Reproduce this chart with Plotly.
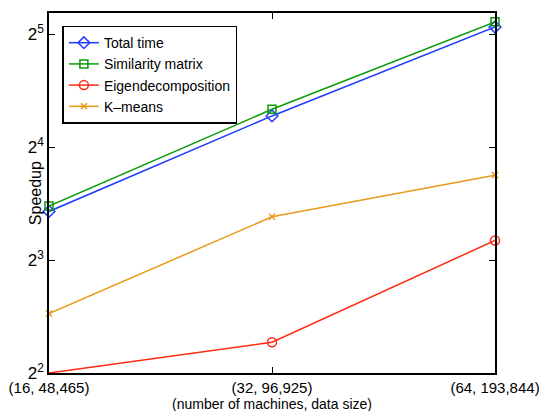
import plotly.graph_objects as go
import math

# Cluster configurations (number of machines, data size)
categories = ["(16, 48,465)", "(32, 96,925)", "(64, 193,844)"]

# Speedup per stage
total_time = [10.78, 19.37, 33.43]
similarity_matrix = [11.14, 20.18, 34.5]
eigendecomposition = [4.0, 4.83, 9.02]
kmeans = [5.76, 10.43, 13.47]

y_tick_vals = [4, 8, 16, 32]
y_tick_text = ["2<sup>2</sup>", "2<sup>3</sup>", "2<sup>4</sup>", "2<sup>5</sup>"]

x = list(range(len(categories)))

series = [
    ("Total time", total_time, "#1f3cff", "diamond-open", 9),
    ("Similarity matrix", similarity_matrix, "#0a9a0a", "square-open", 8),
    ("Eigendecomposition", eigendecomposition, "#ff2a12", "circle-open", 9),
    ("K\u2013means", kmeans, "#e89a1a", "x-thin-open", 6),
]

fig = go.Figure()
for name, vals, color, sym, size in series:
    fig.add_trace(go.Scatter(
        x=x, y=vals, name=name, mode="lines+markers",
        line=dict(color=color, width=1.5),
        marker=dict(symbol=sym, size=size, color=color,
                    line=dict(color=color, width=1.5)),
        cliponaxis=False,
    ))

font_family = "Liberation Sans, Arial, Helvetica, sans-serif"

fig.update_layout(
    width=539, height=411,
    margin=dict(l=49, r=44, t=13, b=38, autoexpand=False),
    paper_bgcolor="white", plot_bgcolor="white",
    font=dict(family=font_family, size=14, color="black"),
    showlegend=True,
    legend=dict(
        x=0.03, y=0.965, xanchor="left", yanchor="top",
        bordercolor="black", borderwidth=1.5, bgcolor="white",
        font=dict(size=14), itemwidth=30, tracegroupgap=0,
    ),
    xaxis=dict(
        range=[0, 2], tickvals=x, ticktext=categories,
        showline=True, linecolor="black", linewidth=1.5, mirror="ticks",
        ticks="inside", ticklen=6, tickcolor="black",
        showgrid=False, zeroline=False, automargin=False,
        ticklabeloverflow="allow",
        tickfont=dict(size=15),
    ),
    yaxis=dict(
        type="log",
        range=[math.log10(4), 5.187 * math.log10(2)],
        tickvals=y_tick_vals, ticktext=y_tick_text,
        showline=True, linecolor="black", linewidth=1.5, mirror="ticks",
        ticks="inside", ticklen=6, tickcolor="black",
        showgrid=False, zeroline=False, automargin=False,
        ticklabeloverflow="allow",
        tickfont=dict(size=17),
    ),
    annotations=[
        dict(text="(number of machines, data size)", xref="paper", yref="paper",
             x=0.5, y=-0.085, xanchor="center", yanchor="middle",
             showarrow=False, font=dict(size=14)),
        dict(text="Speedup", xref="paper", yref="paper",
             x=-0.031, y=0.5, xanchor="center", yanchor="middle",
             textangle=-90, showarrow=False, font=dict(size=16)),
    ],
)

fig.write_html("out.html")
